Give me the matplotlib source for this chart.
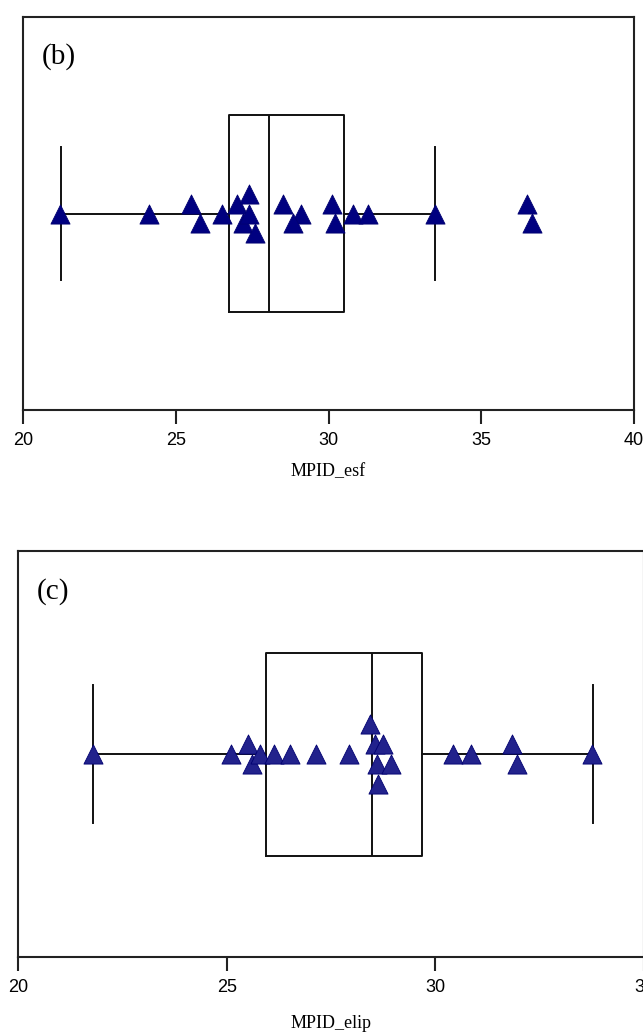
import matplotlib
matplotlib.use('Agg')
import matplotlib.pyplot as plt

# panel (b): MPID_esf
esf_values = [21.2, 24.12, 25.5, 25.8, 26.5, 27.0, 27.4, 27.2, 27.4, 27.6,
              28.5, 29.1, 28.85, 30.1, 30.2, 30.8, 31.3, 33.49, 36.5, 36.67]
esf_tier = [0, 0, 1, -1, 0, 1, 2, -1, 0, -2,
            1, 0, -1, 1, -1, 0, 0, 0, 1, -1]
esf_box = dict(whislo=21.24, q1=26.74, med=28.05, q3=30.5, whishi=33.49)

# panel (c): MPID_elip
elip_values = [21.8, 25.11, 25.5, 25.6, 25.8, 26.14, 26.52, 27.14, 27.92, 28.43,
               28.55, 28.75, 28.6, 28.93, 28.62, 30.43, 30.85, 31.83, 31.95, 33.75]
elip_tier = [0, 0, 1, -1, 0, 0, 0, 0, 0, 3,
             1, 1, -1, -1, -3, 0, 0, 1, -1, 0]
elip_box = dict(whislo=21.8, q1=25.94, med=28.49, q3=29.69, whishi=33.77)

fig = plt.figure(figsize=(6.43, 10.32), dpi=100)

def panel(ax, values, tier, box, xmax, label, tag, fc):
    line = dict(color='#111111', linewidth=1.4)
    stats = [dict(box, fliers=[])]
    ax.bxp(stats, positions=[0.5], widths=0.5, capwidths=0.34,
           orientation='horizontal', showfliers=False,
           boxprops=line, whiskerprops=line, capprops=line, medianprops=line)
    ys = [0.5 + t * 0.025 for t in tier]
    ax.scatter(values, ys, marker='^', s=190, color=fc, edgecolors='#000070',
               linewidths=0.6, zorder=3)
    ax.set_xlim(20, xmax)
    ax.set_ylim(0, 1)
    ax.set_xticks(range(20, xmax + 1, 5))
    ax.set_yticks([])
    for sp in ax.spines.values():
        sp.set_linewidth(1.5)
        sp.set_color('#222222')
    ax.tick_params(axis='x', direction='out', length=10, width=1.5,
                   color='#222222', labelsize=13, pad=6)
    for t in ax.get_xticklabels():
        t.set_family('Liberation Sans')
    ax.set_xlabel(label, fontsize=13, family='Liberation Serif')
    ax.text(0.03, 0.9, tag, transform=ax.transAxes, va='center', ha='left',
            fontsize=21, family='Liberation Serif')

ax1 = fig.add_axes([23 / 643, 1 - 410 / 1032, 611 / 643, 393 / 1032])
panel(ax1, esf_values, esf_tier, esf_box, 40, 'MPID_esf', '(b)', '#000080')
ax1.xaxis.set_label_coords(0.5, -0.135)

ax2 = fig.add_axes([18 / 643, 1 - 957 / 1032, 626 / 643, 406 / 1032])
panel(ax2, elip_values, elip_tier, elip_box, 35, 'MPID_elip', '(c)', '#22228c')
ax2.xaxis.set_label_coords(0.5, -0.142)

fig.savefig('out.png', dpi=100)
